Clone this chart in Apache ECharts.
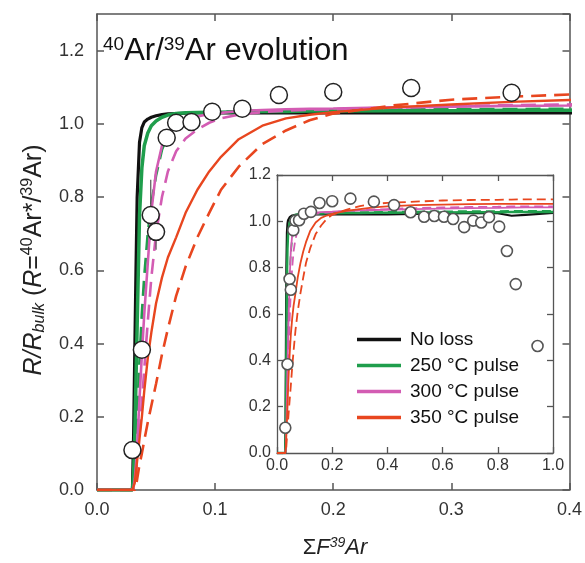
<!DOCTYPE html>
<html><head><meta charset="utf-8">
<script src="https://cdn.jsdelivr.net/npm/echarts@6/dist/echarts.min.js"></script>
<style>html,body{margin:0;padding:0;background:#fff}#c{width:585px;height:563px}</style>
</head><body><div id="c"></div>
<script>
// ---- data ----
const xGrid = [0, 0.030, 0.031, 0.032, 0.033, 0.034, 0.036, 0.038, 0.040, 0.043, 0.046, 0.050, 0.055, 0.060, 0.067, 0.075, 0.085, 0.095, 0.105, 0.120, 0.140, 0.160, 0.180, 0.200, 0.250, 0.300, 0.350, 0.400, 0.500, 0.600, 0.700, 0.800, 0.850, 0.900, 1.000];
const noLoss   = [0,0,0.15,0.38,0.60,0.80,0.95,0.99,1.005,1.013,1.018,1.022,1.025,1.027,1.028,1.029,1.030,1.030,1.030,1.030,1.030,1.030,1.030,1.030,1.030,1.030,1.030,1.030,1.032,1.034,1.035,1.035,1.024,1.028,1.036];
const pulse250 = [0,0,0.05,0.15,0.30,0.45,0.75,0.88,0.94,0.975,0.995,1.008,1.018,1.024,1.028,1.030,1.031,1.032,1.032,1.033,1.034,1.034,1.035,1.035,1.036,1.036,1.037,1.037,1.038,1.038,1.039,1.039,1.040,1.040,1.040];
const pulse250d= [0,0,0.01,0.05,0.12,0.20,0.35,0.48,0.58,0.70,0.78,0.86,0.93,0.97,1.000,1.015,1.025,1.030,1.033,1.035,1.036,1.037,1.038,1.038,1.039,1.040,1.040,1.041,1.042,1.043,1.044,1.044,1.045,1.045,1.045];
const pulse300 = [0,0,0.01,0.03,0.07,0.12,0.25,0.37,0.48,0.62,0.76,0.87,0.94,0.975,0.995,1.010,1.020,1.027,1.030,1.035,1.038,1.040,1.041,1.042,1.045,1.047,1.049,1.050,1.053,1.055,1.057,1.058,1.059,1.060,1.060];
const pulse300d= [0,0,0,0.01,0.04,0.08,0.15,0.24,0.33,0.46,0.58,0.70,0.80,0.87,0.925,0.960,0.985,1.003,1.015,1.025,1.032,1.036,1.038,1.040,1.044,1.048,1.051,1.053,1.057,1.060,1.062,1.063,1.064,1.065,1.065];
const pulse350 = [0,0,0.005,0.02,0.05,0.08,0.14,0.20,0.27,0.36,0.43,0.51,0.58,0.635,0.69,0.757,0.82,0.87,0.91,0.958,0.995,1.015,1.025,1.032,1.045,1.053,1.060,1.065,1.070,1.072,1.074,1.075,1.075,1.075,1.075];
const pulse350d= [0,0,0,0,0.01,0.03,0.07,0.10,0.135,0.185,0.23,0.29,0.37,0.44,0.53,0.61,0.69,0.757,0.82,0.883,0.945,0.982,1.010,1.028,1.050,1.066,1.074,1.080,1.085,1.090,1.092,1.093,1.094,1.095,1.095];

const obsX = [0.030,0.038,0.0455,0.050,0.059,0.067,0.080,0.0975,0.123,0.154,0.200,0.266,0.351,0.424,0.484,0.533,0.570,0.605,0.638,0.678,0.711,0.740,0.768,0.805,0.833,0.865,0.944];
const obsY = [0.109,0.383,0.751,0.705,0.962,1.003,1.005,1.033,1.041,1.079,1.087,1.098,1.085,1.070,1.039,1.020,1.023,1.020,1.010,0.975,1.003,0.995,1.018,0.977,0.872,0.729,0.462];

const errX  = [0.0455, 0.050];
const errLo = [0.683, 0.656];
const errHi = [0.847, 0.705];

const legendNames = ['No loss', '250 °C pulse', '300 °C pulse', '350 °C pulse'];

// ---- styling ----
const FONT = '"Liberation Sans", Arial, Helvetica, sans-serif';
const C_BLACK = '#111111', C_GREEN = '#1f9e4c', C_PINK = '#d35cb3', C_RED = '#e8461f';
const AX = '#555555';

const curves = [
  {name: legendNames[0], ys: noLoss,   color: C_BLACK, dashed: false, w: 3.2, wi: 2.2},
  {name: legendNames[1], ys: pulse250, color: C_GREEN, dashed: false, w: 3.5, wi: 2.4},
  {name: '250d',         ys: pulse250d,color: C_GREEN, dashed: true,  w: 2.8, wi: 1.8},
  {name: legendNames[2], ys: pulse300, color: C_PINK,  dashed: false, w: 2.6, wi: 1.8},
  {name: '300d',         ys: pulse300d,color: C_PINK,  dashed: true,  w: 2.6, wi: 1.8},
  {name: legendNames[3], ys: pulse350, color: C_RED,   dashed: false, w: 2.4, wi: 1.8},
  {name: '350d',         ys: pulse350d,color: C_RED,   dashed: true,  w: 2.6, wi: 1.8}
];

function pairs(ys) { return xGrid.map((x, i) => [x, ys[i]]); }
const obsData = obsX.map((x, i) => [x, obsY[i]]);
const errData = errX.map((x, i) => [x, errLo[i], errHi[i]]);

const series = [];
curves.forEach(c => {
  series.push({
    type: 'line', name: c.name, xAxisIndex: 0, yAxisIndex: 0, data: pairs(c.ys),
    showSymbol: false, symbol: 'none', clip: true, z: 3,
    lineStyle: {color: c.color, width: c.w, type: c.dashed ? [15, 8] : 'solid'},
    itemStyle: {color: c.color}
  });
});
series.push({
  type: 'custom', name: 'err', xAxisIndex: 0, yAxisIndex: 0, data: errData, z: 8,
  renderItem: (params, api) => {
    const p1 = api.coord([api.value(0), api.value(1)]);
    const p2 = api.coord([api.value(0), api.value(2)]);
    return {type: 'line', shape: {x1: p1[0], y1: p1[1], x2: p2[0], y2: p2[1]}, style: {stroke: '#555', lineWidth: 1.2}};
  }
});
series.push({
  type: 'scatter', name: 'obs', xAxisIndex: 0, yAxisIndex: 0, data: obsData, clip: true, z: 9,
  symbol: 'circle', symbolSize: 17,
  itemStyle: {color: '#ffffff', borderColor: '#222', borderWidth: 1.5, opacity: 1}
});
curves.forEach(c => {
  series.push({
    type: 'line', name: c.name, xAxisIndex: 2, yAxisIndex: 2, data: pairs(c.ys),
    showSymbol: false, symbol: 'none', clip: true, z: 6,
    lineStyle: {color: c.color, width: c.wi, type: c.dashed ? [9, 5] : 'solid'},
    itemStyle: {color: c.color}
  });
});
series.push({
  type: 'scatter', name: 'obsInset', xAxisIndex: 2, yAxisIndex: 2, data: obsData, clip: true, z: 9,
  symbol: 'circle', symbolSize: 11,
  itemStyle: {color: '#ffffff', borderColor: '#555', borderWidth: 1.6, opacity: 1}
});

function axisCommon(extra) {
  return Object.assign({
    type: 'value',
    axisLine: {show: true, onZero: false, lineStyle: {color: AX, width: 1.5}},
    axisTick: {show: true, inside: true, length: 7, lineStyle: {color: AX, width: 1.5}},
    splitLine: {show: false},
    axisLabel: {show: false}
  }, extra);
}
const fmt1 = v => v.toFixed(1);
const insetLine = {show: true, onZero: false, lineStyle: {color: AX, width: 1.3}};
const insetTick = {show: true, inside: true, length: 6, lineStyle: {color: AX, width: 1.3}};

const option = {
  animation: false,
  backgroundColor: '#ffffff',
  grid: [
    {left: 97, top: 14, width: 476, height: 476, show: false},
    {left: 277, top: 175, width: 276, height: 278, show: true, backgroundColor: '#ffffff', borderWidth: 0, z: 5}
  ],
  xAxis: [
    axisCommon({gridIndex: 0, position: 'bottom', min: 0, max: 0.4, interval: 0.1,
      axisLabel: {show: true, fontSize: 18, color: '#333', fontFamily: FONT, margin: 11, formatter: fmt1}}),
    axisCommon({gridIndex: 0, position: 'top', min: 0, max: 0.4, interval: 0.1}),
    axisCommon({gridIndex: 1, position: 'bottom', min: 0, max: 1, interval: 0.2, z: 6,
      axisLine: insetLine, axisTick: insetTick,
      axisLabel: {show: true, fontSize: 16, color: '#333', fontFamily: FONT, margin: 5, formatter: fmt1}}),
    axisCommon({gridIndex: 1, position: 'top', min: 0, max: 1, interval: 0.2, z: 6,
      axisLine: insetLine, axisTick: insetTick})
  ],
  yAxis: [
    axisCommon({gridIndex: 0, position: 'left', min: 0, max: 1.3, interval: 0.2,
      axisLabel: {show: true, fontSize: 18, color: '#333', fontFamily: FONT, margin: 13, formatter: fmt1, showMaxLabel: false}}),
    axisCommon({gridIndex: 0, position: 'right', min: 0, max: 1.3, interval: 0.2}),
    axisCommon({gridIndex: 1, position: 'left', min: 0, max: 1.2, interval: 0.2, z: 6,
      axisLine: insetLine, axisTick: insetTick,
      axisLabel: {show: true, fontSize: 16, color: '#333', fontFamily: FONT, margin: 6, formatter: fmt1}}),
    axisCommon({gridIndex: 1, position: 'right', min: 0, max: 1.2, interval: 0.2, z: 6,
      axisLine: insetLine, axisTick: insetTick})
  ],
  legend: {
    data: legendNames, orient: 'vertical', left: 352, top: 325, z: 10,
    icon: 'rect', itemWidth: 44, itemHeight: 3.5, itemGap: 7,
    textStyle: {fontSize: 19, color: '#111', fontFamily: FONT, lineHeight: 18, padding: [0, 0, 0, 4]},
    selectedMode: false
  },
  graphic: [
    {type: 'text', x: 103, y: 51, z: 20,
      style: {text: '{s|40}{n|Ar/}{s|39}{n|Ar evolution}', align: 'left', verticalAlign: 'middle',
        rich: {n: {fontSize: 31, fontFamily: FONT, fill: '#111', color: '#111', lineHeight: 32},
               s: {fontSize: 19, fontFamily: FONT, fill: '#111', color: '#111', verticalAlign: 'top', lineHeight: 19}}}},
    {type: 'text', x: 335, y: 548, z: 20,
      style: {text: '{n|Σ}{i|F}{s|39}{i|Ar}', align: 'center', verticalAlign: 'middle',
        rich: {n: {fontSize: 22, fontFamily: FONT, fill: '#222', color: '#222', lineHeight: 24},
               i: {fontSize: 22, fontFamily: FONT, fontStyle: 'italic', fill: '#222', color: '#222', lineHeight: 24},
               s: {fontSize: 14, fontFamily: FONT, fontStyle: 'italic', fill: '#222', color: '#222', verticalAlign: 'top', lineHeight: 14}}}},
    {type: 'text', x: 34, y: 260, rotation: Math.PI / 2, z: 20,
      style: {text: '{i|R/R}{b|bulk}{n| (}{i|R}{n|=}{s|40}{n|Ar*/}{s|39}{n|Ar)}', align: 'center', verticalAlign: 'middle',
        rich: {n: {fontSize: 25, fontFamily: FONT, fill: '#222', color: '#222', lineHeight: 28},
               i: {fontSize: 25, fontFamily: FONT, fontStyle: 'italic', fill: '#222', color: '#222', lineHeight: 28},
               b: {fontSize: 16, fontFamily: FONT, fontStyle: 'italic', fill: '#222', color: '#222', verticalAlign: 'bottom', lineHeight: 16},
               s: {fontSize: 16, fontFamily: FONT, fill: '#222', color: '#222', verticalAlign: 'top', lineHeight: 16}}}}
  ],
  series: series
};
const chart = echarts.init(document.getElementById('c'), null, {renderer: 'canvas'});
chart.setOption(option);
</script></body></html>
